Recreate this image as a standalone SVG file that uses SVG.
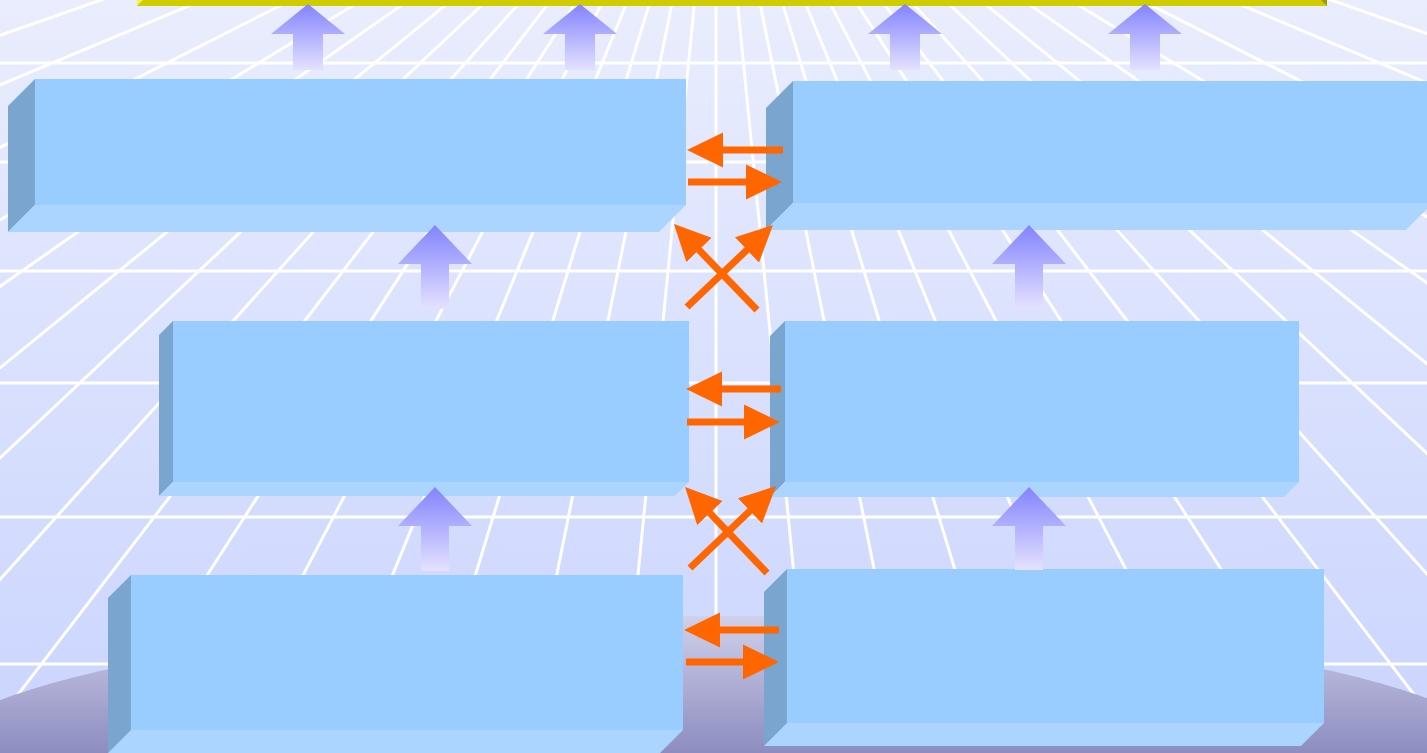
<svg xmlns="http://www.w3.org/2000/svg" width="1427" height="753" viewBox="0 0 1427 753">
<defs>
<linearGradient id="bg" x1="0" y1="0" x2="0" y2="753" gradientUnits="userSpaceOnUse">
<stop offset="0" stop-color="#E9EDFD"/>
<stop offset="1" stop-color="#CAD4FE"/>
</linearGradient>
<linearGradient id="floor" x1="0" y1="616" x2="0" y2="753" gradientUnits="userSpaceOnUse">
<stop offset="0" stop-color="#D0D0EA"/>
<stop offset="1" stop-color="#8C8CC0"/>
</linearGradient>
<linearGradient id="up" x1="0" y1="0" x2="0" y2="1">
<stop offset="0" stop-color="#8383FF"/>
<stop offset="1" stop-color="#E4E2FD"/>
</linearGradient>
<marker id="head" markerUnits="userSpaceOnUse" markerWidth="36" markerHeight="36" viewBox="0 -18 36 36" refX="2" refY="0" orient="auto">
<path d="M0,-17.5 L36,0 L0,17.5 Z" fill="#FF6600"/>
</marker>
<style>
.grid{stroke:#FFFFFF;stroke-width:3;fill:none}
.front{fill:#99CCFF}
.side{fill:#79A5CF}
.bottom{fill:#ABD5FE}
.up{fill:url(#up)}
.orange{stroke:#FF6600;stroke-width:7;fill:none;marker-end:url(#head)}
</style>
</defs>

<g id="background">
<rect x="0" y="0" width="1427" height="753" fill="url(#bg)"/>
<g class="grid">
<path d="M716,-215 L716,753"/>
<path d="M716,-215 L811.6,753 M716,-215 L620.4,753"/>
<path d="M716,-215 L911.2,753 M716,-215 L520.8,753"/>
<path d="M716,-215 L1010.8,753 M716,-215 L421.2,753"/>
<path d="M716,-215 L1112.4,753 M716,-215 L319.6,753"/>
<path d="M716,-215 L1221.9,753 M716,-215 L210.1,753"/>
<path d="M716,-215 L1339.4,753 M716,-215 L92.6,753"/>
<path d="M716,-215 L1458.9,753 M716,-215 L-26.9,753"/>
<path d="M716,-215 L1588.4,753 M716,-215 L-156.4,753"/>
<path d="M716,-215 L1745.8,753 M716,-215 L-313.8,753"/>
<path d="M716,-215 L1905.1,753 M716,-215 L-473.1,753"/>
<path d="M716,-215 L2098.3,753 M716,-215 L-666.3,753"/>
<path d="M716,-215 L2309.4,753 M716,-215 L-877.4,753"/>
<path d="M716,-215 L2628.1,753 M716,-215 L-1196.1,753"/>
<path d="M716,-215 L3026.5,753 M716,-215 L-1594.5,753"/>
<path d="M716,-215 L3484.6,753 M716,-215 L-2052.6,753"/>
<path d="M0,63 H1427 M0,162 H1427 M0,271 H1427 M0,383 H1427 M0,517 H1427 M0,664 H1427"/>
</g>
<ellipse cx="716" cy="768" rx="800" ry="152" fill="url(#floor)"/>
</g>

<g id="top-bar">
<rect x="137" y="-2" width="1190" height="8" fill="#CFCC00"/>
<polygon points="137,0 143,0 137,6" fill="#F4F255"/>
<polygon points="1321,0 1327,0 1327,6" fill="#9E9C00"/>
</g>

<g id="box1">
<rect class="front" x="35" y="79" width="651" height="126"/>
<polygon class="side" points="35,79 8,106 8,232 35,205"/>
<polygon class="bottom" points="35,205 686,205 659,232 8,232"/>
</g>
<g id="box2">
<rect class="front" x="793" y="81" width="640" height="122"/>
<polygon class="side" points="793,81 766,108 766,230 793,203"/>
<polygon class="bottom" points="793,203 1433,203 1406,230 766,230"/>
</g>
<g id="box3">
<rect class="front" x="173" y="321" width="516" height="161"/>
<polygon class="side" points="173,321 159,335 159,496 173,482"/>
<polygon class="bottom" points="173,482 689,482 675,496 159,496"/>
</g>
<g id="box4">
<rect class="front" x="785" y="321" width="514" height="161"/>
<polygon class="side" points="785,321 770,336 770,497 785,482"/>
<polygon class="bottom" points="785,482 1299,482 1284,497 770,497"/>
</g>
<g id="box5">
<rect class="front" x="131" y="575" width="552" height="155"/>
<polygon class="side" points="131,575 108,598 108,753 131,730"/>
<polygon class="bottom" points="131,730 683,730 660,753 108,753"/>
</g>
<g id="box6">
<rect class="front" x="787" y="569" width="537" height="154"/>
<polygon class="side" points="787,569 764,592 764,746 787,723"/>
<polygon class="bottom" points="787,723 1324,723 1301,746 764,746"/>
</g>

<g id="up-arrows">
<path class="up" d="M308,4 L345,34 L323,34 L323,70 L293,70 L293,34 L271,34 Z"/>
<path class="up" d="M580,4 L617,34 L595,34 L595,70 L565,70 L565,34 L543,34 Z"/>
<path class="up" d="M905,4 L942,34 L920,34 L920,70 L890,70 L890,34 L868,34 Z"/>
<path class="up" d="M1145,4 L1182,34 L1160,34 L1160,70 L1130,70 L1130,34 L1108,34 Z"/>
<path class="up" d="M435,225 L472,264 L449,264 L449,309 L421,309 L421,264 L398,264 Z"/>
<path class="up" d="M1029,225 L1066,264 L1043,264 L1043,309 L1015,309 L1015,264 L992,264 Z"/>
<path class="up" d="M435,487 L472,526 L449,526 L449,571 L421,571 L421,526 L398,526 Z"/>
<path class="up" d="M1029,487 L1066,526 L1043,526 L1043,570 L1015,570 L1015,526 L992,526 Z"/>
</g>

<g id="connectors">
<line class="orange" x1="783" y1="150" x2="721" y2="150"/>
<line class="orange" x1="688" y1="182" x2="748" y2="182"/>
<line class="orange" x1="757" y1="310" x2="697.6" y2="248.5"/>
<line class="orange" x1="687" y1="307" x2="748.4" y2="248.5"/>
<line class="orange" x1="781" y1="389" x2="720" y2="389"/>
<line class="orange" x1="687" y1="422" x2="746" y2="422"/>
<line class="orange" x1="767" y1="573" x2="708.5" y2="511.6"/>
<line class="orange" x1="690" y1="568" x2="751.4" y2="509.5"/>
<line class="orange" x1="779" y1="630" x2="718" y2="630"/>
<line class="orange" x1="686" y1="662" x2="745" y2="662"/>
</g>
</svg>
